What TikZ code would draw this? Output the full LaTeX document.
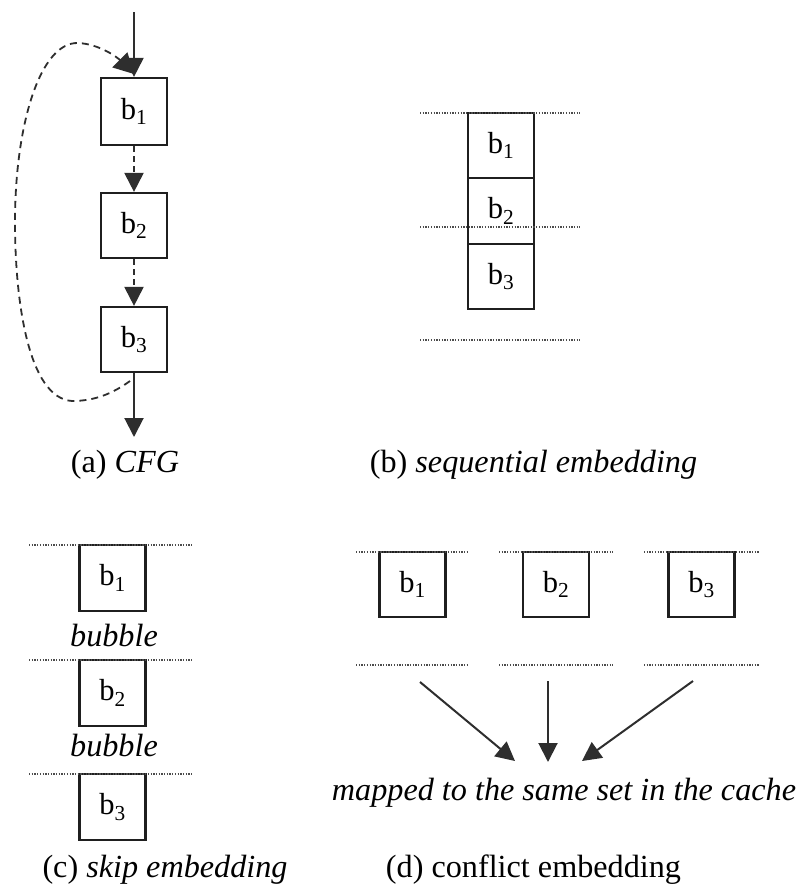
\documentclass[tikz,border=0pt]{standalone}
\usepackage{fontspec}
\setmainfont{Liberation Serif}
\usetikzlibrary{arrows.meta}
\newcommand{\capsize}{\fontsize{32.2}{38}\selectfont}
\newcommand{\boxsize}{\fontsize{30.5}{36}\selectfont}
\begin{document}
\begin{tikzpicture}[x=1pt,y=-1pt,
  blk/.style={draw=black!88, line width=2.2pt, minimum width=66pt, minimum height=66pt,
              inner sep=0pt, font=\boxsize},
  tip/.style={-{Triangle[length=19pt,width=19pt]}, line width=2pt, draw=black!82},
  dtip/.style={tip, dash pattern=on 6pt off 4pt},
  loopline/.style={line width=1.8pt, draw=black!82, dash pattern=on 7pt off 5pt,
              -{Triangle[length=20pt,width=21pt]}},
  dots/.style={line width=1.4pt, draw=black!70, dash pattern=on 1.3pt off 1.4pt},
  lbl/.style={font=\capsize, inner sep=0pt}]
\useasboundingbox (0,0) rectangle (801,892);

% ---------- (a) control flow graph ----------
\node[blk, minimum height=67pt] (a1) at (134,111.5) {b\textsubscript{1}};
\node[blk, minimum height=65pt] (a2) at (134,225.5) {b\textsubscript{2}};
\node[blk, minimum height=65pt] (a3) at (134,339.5) {b\textsubscript{3}};
\coordinate (ain)  at (134,12);
\coordinate (aout) at (134,437);
\draw[tip] (ain) -- (a1.north);
\draw[dtip] (a1) -- (a2);
\draw[dtip] (a2) -- (a3);
\draw[tip] (a3) -- (aout);
\coordinate (lp0) at (130,381);
\coordinate (lp1) at (72,401);
\coordinate (lp2) at (15,222);
\coordinate (lp3) at (78,43);
\coordinate (lp4) at (134,74);
\draw[loopline] (lp0) .. controls (112,394) and (94,401) .. (lp1)
  .. controls (28,398) and (15,300) .. (lp2)
  .. controls (15,125) and (40,42) .. (lp3)
  .. controls (100,44) and (118,58) .. (lp4);
\node[lbl] (capa) at (125,465) {(a) \textit{CFG}};

% ---------- (b) sequential embedding ----------
\node[blk, minimum height=65.5pt] (s1) at (501,145.5) {b\textsubscript{1}};
\node[blk, minimum height=65.5pt] (s2) at (501,211) {b\textsubscript{2}};
\node[blk, minimum height=65.5pt] (s3) at (501,276.5) {b\textsubscript{3}};
\coordinate (sl1) at (420,113); \coordinate (sr1) at (580,113);
\coordinate (sl2) at (420,227); \coordinate (sr2) at (580,227);
\coordinate (sl3) at (420,340); \coordinate (sr3) at (580,340);
\draw[dots] (sl1) -- (sr1);
\draw[dots] (sl2) -- (sr2);
\draw[dots] (sl3) -- (sr3);
\node[lbl] (capb) at (533.5,465) {(b) \textit{sequential embedding}};

% ---------- (c) skip embedding ----------
\node[blk] (k1) at (112.5,578) {b\textsubscript{1}};
\node[blk] (k2) at (112.5,693) {b\textsubscript{2}};
\node[blk] (k3) at (112.5,807) {b\textsubscript{3}};
\coordinate (kl1) at (29,545); \coordinate (kr1) at (192,545);
\coordinate (kl2) at (29,660); \coordinate (kr2) at (192,660);
\coordinate (kl3) at (29,774); \coordinate (kr3) at (192,774);
\draw[dots] (kl1) -- (kr1);
\draw[dots] (kl2) -- (kr2);
\draw[dots] (kl3) -- (kr3);
\node[lbl] (bub1) at (114,636) {\textit{bubble}};
\node[lbl] (bub2) at (114,746) {\textit{bubble}};
\node[lbl] (capc) at (165,870) {(c) \textit{skip embedding}};

% ---------- (d) conflict embedding ----------
\node[blk, minimum height=65pt] (c1) at (412.5,584.5) {b\textsubscript{1}};
\node[blk, minimum height=65pt] (c2) at (556,584.5) {b\textsubscript{2}};
\node[blk, minimum height=65pt] (c3) at (701.5,584.5) {b\textsubscript{3}};
\foreach \l/\r [count=\i] in {356/469, 499/613, 644/759}{
  \coordinate (tl\i) at (\l,552); \coordinate (tr\i) at (\r,552);
  \coordinate (bl\i) at (\l,665); \coordinate (br\i) at (\r,665);
  \draw[dots] (tl\i) -- (tr\i);
  \draw[dots] (bl\i) -- (br\i);
}
\coordinate (m1s) at (420,682); \coordinate (m1e) at (515,761);
\coordinate (m2s) at (548,681); \coordinate (m2e) at (548,762);
\coordinate (m3s) at (693,681); \coordinate (m3e) at (582,761);
\draw[tip] (m1s) -- (m1e);
\draw[tip] (m2s) -- (m2e);
\draw[tip] (m3s) -- (m3e);
\node[lbl] (cache) at (564,793) {\textit{mapped to the same set in the cache}};
\node[lbl] (capd) at (533.5,870) {(d) conflict embedding};
\end{tikzpicture}
\end{document}
